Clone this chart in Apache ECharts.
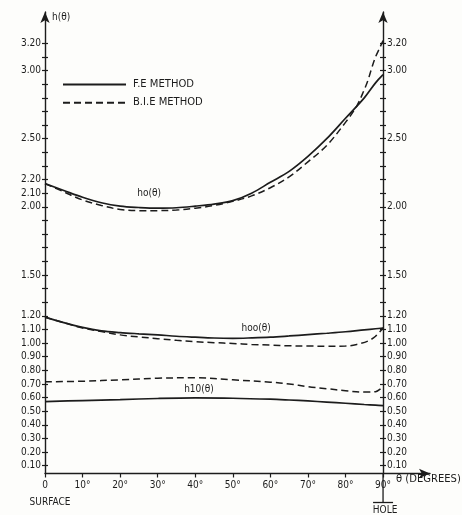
<!DOCTYPE html>
<html>
<head>
<meta charset="utf-8">
<script src="https://cdn.jsdelivr.net/npm/echarts@6/dist/echarts.min.js"></script>
<style>
  html, body { margin: 0; padding: 0; background: #fdfdfb; }
  #main { width: 462px; height: 515px; }
</style>
</head>
<body>
<div id="main"></div>
<script>
// 数据 -- 角度 (0 = surface, 90 = hole)
var angles = [0, 5, 10, 15, 20, 25, 30, 35, 40, 45, 50, 55, 60, 65, 70, 75, 80, 85, 88, 90];
var anglesBieH0 = [0, 5, 10, 15, 20, 25, 30, 35, 40, 45, 50, 55, 60, 65, 70, 75, 80, 83, 85, 86, 87, 88, 89, 90];
var anglesBieH00 = [0, 5, 10, 15, 20, 25, 30, 35, 40, 45, 50, 55, 60, 65, 70, 75, 80, 83, 86, 88, 90];
var anglesH10 = [0, 10, 20, 30, 40, 50, 60, 65, 70, 75, 80, 85, 88, 90];

// h0(θ)
var feH0 = [2.17, 2.12, 2.07, 2.03, 2.005, 1.995, 1.99, 1.993, 2.005, 2.02, 2.045, 2.10, 2.18, 2.26, 2.37, 2.50, 2.65, 2.80, 2.91, 2.97];
var bieH0 = [2.17, 2.11, 2.05, 2.01, 1.98, 1.972, 1.972, 1.976, 1.99, 2.01, 2.04, 2.08, 2.14, 2.22, 2.33, 2.45, 2.62, 2.74, 2.86, 2.93, 3.02, 3.10, 3.16, 3.22];
// h00(θ)
var feH00 = [1.19, 1.15, 1.115, 1.09, 1.077, 1.068, 1.06, 1.05, 1.043, 1.037, 1.035, 1.038, 1.043, 1.052, 1.062, 1.072, 1.083, 1.097, 1.105, 1.11];
var bieH00 = [1.19, 1.15, 1.11, 1.085, 1.06, 1.045, 1.032, 1.02, 1.01, 1.003, 0.997, 0.99, 0.985, 0.98, 0.978, 0.977, 0.978, 0.99, 1.015, 1.05, 1.11];
// h10(θ)
var feH10 = [0.57, 0.578, 0.585, 0.593, 0.597, 0.595, 0.588, 0.582, 0.575, 0.567, 0.558, 0.549, 0.544, 0.54];
var bieH10 = [0.716, 0.72, 0.73, 0.742, 0.745, 0.73, 0.713, 0.70, 0.68, 0.665, 0.65, 0.64, 0.643, 0.68];

// 刻度标签
var xTicks = [0, 10, 20, 30, 40, 50, 60, 70, 80, 90];
var leftLabels = [0.1, 0.2, 0.3, 0.4, 0.5, 0.6, 0.7, 0.8, 0.9, 1.0, 1.1, 1.2, 1.5, 2.0, 2.1, 2.2, 2.5, 3.0, 3.2];
var rightLabels = [0.1, 0.2, 0.3, 0.4, 0.5, 0.6, 0.7, 0.8, 0.9, 1.0, 1.1, 1.2, 1.5, 2.0, 2.5, 3.0, 3.2];

// 曲线名称 [angle, value, text]
var curveNames = [[27.7, 2.10, 'ho(θ)'], [56.2, 1.106, 'hoo(θ)'], [41, 0.66, 'h10(θ)']];

var FONT = '"DejaVu Sans Condensed", "Liberation Sans Narrow", "DejaVu Sans", sans-serif';
var INK = '#1c1c1c';
var Y_MIN = 0.0425, Y_MAX = 3.43;

var yTicks = [];
for (var i = 1; i <= 32; i++) yTicks.push(+(i / 10).toFixed(1));

function pairs(xs, ys) {
    return xs.map(function (x, i) { return [x, ys[i]]; });
}

function yAxis(position, labels, inside, showLine) {
    return {
        type: 'value', position: position, min: Y_MIN, max: Y_MAX,
        offset: position === 'right' ? -47 : 0,
        splitLine: { show: false },
        axisLine: {
            show: showLine, lineStyle: { color: INK, width: 1.4 },
            symbol: ['none', 'arrow'], symbolSize: [7, 11]
        },
        axisTick: { show: true, inside: inside, length: 3, customValues: yTicks, lineStyle: { color: INK, width: 1.2 } },
        axisLabel: {
            show: !!labels, customValues: labels || [], margin: 4,
            color: INK, fontFamily: FONT, fontSize: 10,
            formatter: function (v) { return v.toFixed(2); }
        }
    };
}

var myChart = echarts.init(document.getElementById('main'));

function line(name, xs, ys, dashed) {
    return {
        name: name, type: 'line', xAxisIndex: 0, yAxisIndex: 0,
        data: pairs(xs, ys), symbol: 'none', smooth: 0.35,
        lineStyle: { color: INK, width: dashed ? 1.5 : 1.7, type: dashed ? [7, 4] : 'solid' },
        itemStyle: { color: INK }
    };
}

var FE = 'F.E METHOD', BIE = 'B.I.E METHOD';
var labelSeries = line(FE, angles, feH0, false);
labelSeries.markPoint = {
    symbol: 'circle', symbolSize: 0,
    label: { show: true, position: 'inside', color: INK, fontFamily: FONT, fontSize: 10, formatter: '{b}' },
    data: curveNames.map(function (c) { return { coord: [c[0], c[1]], name: c[2] }; })
};

var option = {
    backgroundColor: '#fdfdfb',
    animation: false,
    grid: { left: 45, right: 32, top: 12, bottom: 41.5, containLabel: false },
    legend: {
        data: [FE, BIE], orient: 'vertical', left: 57, top: 74,
        itemWidth: 63, itemHeight: 14, itemGap: 7, selectedMode: false,
        itemStyle: { color: 'rgba(0,0,0,0)', borderWidth: 0, opacity: 0 },
        textStyle: { color: INK, fontFamily: '"DejaVu Sans", sans-serif', fontSize: 10, padding: [0, 0, 0, 2] }
    },
    xAxis: {
        type: 'value', min: 0, max: 102.5,
        splitLine: { show: false },
        axisLine: { lineStyle: { color: INK, width: 1.4 }, symbol: ['none', 'arrow'], symbolSize: [7, 11] },
        axisTick: { customValues: xTicks, length: 4, lineStyle: { color: INK, width: 1.2 } },
        axisLabel: {
            customValues: xTicks, margin: 7, color: INK, fontFamily: FONT, fontSize: 10,
            formatter: function (v) { return v === 0 ? '0' : v + '°'; }
        }
    },
    yAxis: [
        yAxis('left', leftLabels, false, true),
        yAxis('left', null, true, false),
        yAxis('right', rightLabels, false, true),
        yAxis('right', null, true, false)
    ],
    series: [
        labelSeries,
        line(FE, angles, feH00, false),
        line(FE, anglesH10, feH10, false),
        line(BIE, anglesBieH0, bieH0, true),
        line(BIE, anglesBieH00, bieH00, true),
        line(BIE, anglesH10, bieH10, true)
    ]
};

myChart.setOption(option);

// 坐标轴上的附注 (h(θ), θ, SURFACE, HOLE)
var origin = myChart.convertToPixel({ gridIndex: 0 }, [0, Y_MIN]);
var axisTop = myChart.convertToPixel({ gridIndex: 0 }, [0, Y_MAX]);
var hole = myChart.convertToPixel({ gridIndex: 0 }, [90, Y_MIN]);
var txt = { fill: INK, fontFamily: FONT, fontSize: 10 };
myChart.setOption({
    graphic: [
        { type: 'text', x: origin[0] + 7, y: axisTop[1] + 5, style: Object.assign({ text: 'h(θ)', verticalAlign: 'middle' }, txt) },
        { type: 'text', x: hole[0] + 13, y: hole[1] + 1, style: Object.assign({ text: 'θ (DEGREES)' }, txt, { fontFamily: '"DejaVu Sans", sans-serif' }) },
        { type: 'text', x: origin[0] + 5, y: origin[1] + 29, style: Object.assign({ text: 'SURFACE', align: 'center', verticalAlign: 'middle' }, txt) },
        { type: 'line', shape: { x1: hole[0], y1: hole[1], x2: hole[0], y2: hole[1] + 29 }, style: { stroke: INK, lineWidth: 1.3 } },
        { type: 'line', shape: { x1: hole[0] - 10, y1: hole[1] + 29, x2: hole[0] + 10, y2: hole[1] + 29 }, style: { stroke: INK, lineWidth: 1.3 } },
        { type: 'text', x: hole[0] + 2, y: hole[1] + 37, style: Object.assign({ text: 'HOLE', align: 'center', verticalAlign: 'middle' }, txt) }
    ]
});
</script>
</body>
</html>
